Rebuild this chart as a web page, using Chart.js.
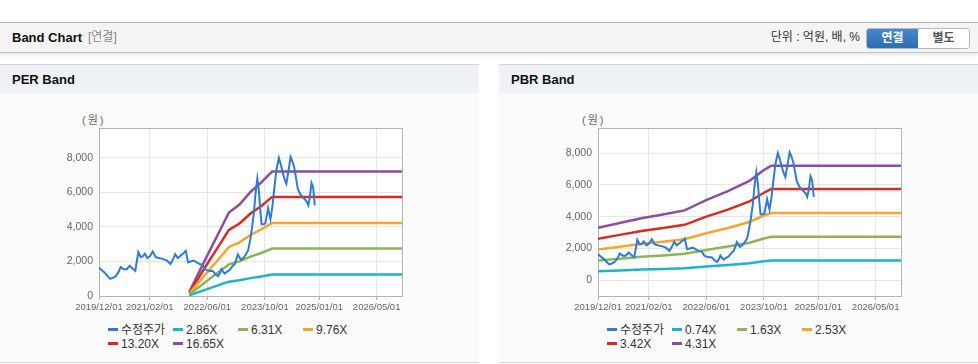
<!DOCTYPE html>
<html lang="ko">
<head>
<meta charset="utf-8">
<title>Band Chart</title>
<script src="https://cdn.jsdelivr.net/npm/chart.js@4.4.1/dist/chart.umd.min.js"></script>
<style>
  body { margin: 0; width: 978px; height: 364px; position: relative; overflow: hidden; background: #fff;
         font-family: "Liberation Sans", Arial, "Noto Sans CJK KR", sans-serif; color: #222; }
  .top { position: absolute; left: 0; top: 22px; width: 978px; height: 29px; line-height: 29px;
         background: #f4f4f4; border-top: 1px solid #b4b4b4; border-bottom: 1px solid #c4c4c4;
         box-shadow: 0 2px 3px rgba(0,0,0,0.10); }
  .top .title { position: absolute; left: 12px; font-size: 13px; font-weight: bold; color: #111; }
  .top .sub { position: absolute; left: 88px; font-size: 12px; color: #888; }
  .top .unit { position: absolute; right: 118px; font-size: 12px; color: #333; }
  .btns { position: absolute; left: 866px; top: 5px; width: 102px; height: 19px; line-height: 19px;
          border: 1px solid #b8b8b8; border-radius: 3px; overflow: hidden; font-size: 12px; font-weight: bold; }
  .btns span { float: left; width: 51px; text-align: center; }
  .btns .on { background: linear-gradient(#4688cc, #2e6db0); color: #fff; }
  .btns .off { background: #fff; color: #555; }
  .panel { position: absolute; top: 64px; width: 479px; height: 297px; background: #fbfbfb;
           border-top: 1px solid #d4d4d4; border-bottom: 1px solid #d8d8d8; }
  .panel .head { height: 28px; line-height: 29px; background: #eef2f7; padding-left: 12px;
                 font-size: 13px; font-weight: bold; color: #111; }
  .unitlabel { position: absolute; top: 46px; font-size: 11px; color: #666; letter-spacing: 2px; }
  .box { position: absolute; left: 40px; top: 45px; width: 400px; height: 210px; }
  .legend { position: absolute; left: 108px; top: 258px; display: grid;
            grid-template-columns: repeat(4, 65px); grid-auto-rows: 14px; font-size: 12px; color: #333; }
  .legend div { white-space: nowrap; line-height: 14px; }
  .legend i { display: inline-block; width: 10px; height: 3px; margin-right: 3px; vertical-align: 3px; }
</style>
</head>
<body>
<div class="top">
  <span class="title">Band Chart</span><span class="sub">[연결]</span>
  <span class="unit">단위 : 억원, 배, %</span>
  <div class="btns"><span class="on">연결</span><span class="off">별도</span></div>
</div>

<div class="panel" style="left:0">
  <div class="head">PER Band</div>
  <div class="unitlabel" style="left:82px">(원)</div>
  <div class="box"><canvas id="perChart"></canvas></div>
  <div class="legend" id="perLegend"></div>
</div>

<div class="panel" style="left:499px">
  <div class="head">PBR Band</div>
  <div class="unitlabel" style="left:83px">(원)</div>
  <div class="box"><canvas id="pbrChart"></canvas></div>
  <div class="legend" id="pbrLegend"></div>
</div>

<script>
"use strict";

// 수정주가 (adjusted price)
const priceDates = [
  "2019-12-01","2019-12-23","2020-01-18","2020-02-12","2020-03-05","2020-03-26","2020-04-20","2020-05-11","2020-06-01","2020-06-27",
  "2020-07-22","2020-08-16","2020-09-06","2020-10-02","2020-10-28","2020-11-18","2020-12-05","2020-12-22","2021-01-12","2021-02-02",
  "2021-02-27","2021-03-24","2021-04-18","2021-05-22","2021-06-26","2021-07-26","2021-08-19","2021-09-04","2021-09-26","2021-10-21",
  "2021-11-16","2021-12-02","2021-12-22","2022-01-13","2022-02-08","2022-03-05","2022-03-30","2022-04-25","2022-05-16","2022-05-29",
  "2022-06-23","2022-07-18","2022-08-12","2022-09-02","2022-09-15","2022-09-29","2022-10-14","2022-10-27","2022-11-13","2022-12-08",
  "2023-01-03","2023-01-20","2023-02-15","2023-03-12","2023-04-02","2023-04-23","2023-05-13","2023-05-31","2023-06-13","2023-06-30",
  "2023-07-12","2023-07-29","2023-08-11","2023-08-24","2023-09-03","2023-09-22","2023-10-05","2023-10-28","2023-11-17","2023-12-02",
  "2023-12-19","2024-01-06","2024-01-27","2024-02-13","2024-02-27","2024-03-13","2024-03-30","2024-04-16","2024-05-05","2024-05-20",
  "2024-06-06","2024-06-18","2024-07-05","2024-07-26","2024-08-16","2024-09-02","2024-09-19","2024-10-01","2024-10-14","2024-10-28",
  "2024-11-11","2024-11-25"
];
const priceValues = [
  1650,1500,1350,1150,1000,1050,1150,1350,1680,1550,
  1550,1750,1600,1450,2550,2250,2300,2450,2200,2300,
  2580,2250,2200,2150,2050,1850,2150,2420,2200,2350,
  2500,2620,1950,2000,2050,1950,1850,1800,1550,1500,
  1450,1450,1250,1150,1300,1550,1400,1300,1400,1500,
  1750,1850,2400,2100,2200,2400,2650,3300,3900,4800,
  5800,6800,6100,4900,4150,4150,4200,5100,4450,5100,
  6200,7300,8000,7600,7200,6800,6500,7200,8050,7800,
  7400,6900,6200,5900,5700,5600,5450,5250,5700,6550,
  6300,5250
];

// PER band
const perBandDates = ["2022-01-01","2022-04-01","2022-07-01","2022-10-01","2022-12-01","2023-03-01","2023-06-01","2023-09-01","2023-12-01","2026-12-01"];
const perLabels = ["2.86X","6.31X","9.76X","13.20X","16.65X"];
const per286  = [40, 257, 472, 686, 829, 909, 1035, 1130, 1250, 1250];
const per631  = [88, 568, 1041, 1514, 1830, 2007, 2284, 2492, 2750, 2750];
const per976  = [137, 878, 1610, 2342, 2830, 3104, 3533, 3855, 4230, 4230];
const per1320 = [185, 1188, 2178, 3168, 3828, 4198, 4778, 5214, 5740, 5740];
const per1665 = [233, 1499, 2747, 3996, 4829, 5295, 6027, 6577, 7210, 7210];

// PBR band
const pbrBandDates = ["2019-12-01","2020-06-01","2020-12-01","2021-06-01","2021-12-01","2022-06-01","2022-12-01","2023-06-01","2023-10-01","2023-12-01","2026-12-01"];
const pbrLabels = ["0.74X","1.63X","2.53X","3.42X","4.31X"];
const pbr074 = [566, 618, 670, 710, 755, 866, 962, 1073, 1191, 1250, 1250];
const pbr163 = [1247, 1361, 1475, 1565, 1663, 1907, 2119, 2364, 2624, 2740, 2740];
const pbr253 = [1935, 2113, 2290, 2429, 2581, 2960, 3289, 3669, 4073, 4230, 4230];
const pbr342 = [2616, 2856, 3095, 3283, 3488, 4001, 4446, 4959, 5506, 5740, 5740];
const pbr431 = [3297, 3599, 3901, 4138, 4396, 5043, 5603, 6250, 6939, 7200, 7200];

// axes
const xTickDates = ["2019-12-01","2021-02-01","2022-06-01","2023-10-01","2025-01-01","2026-05-01"];
const xStart = "2019-12-01";
const xEnd = "2026-12-01";
const yTicks = [0, 2000, 4000, 6000, 8000];

const priceColor = "#2f7bd3";
const bandColors = ["#1db4c6", "#8db553", "#f5a530", "#d52d24", "#8c4f9d"];

const toMs = (s) => Date.parse(s + "T00:00:00Z");
const pad2 = (n) => String(n).padStart(2, "0");
const fmtDate = (ms) => {
  const d = new Date(ms);
  return d.getUTCFullYear() + "/" + pad2(d.getUTCMonth() + 1) + "/" + pad2(d.getUTCDate());
};
const toPoints = (dates, values) => dates.map((d, i) => ({ x: toMs(d), y: values[i] }));

// white plot background + grey frame
const plotFrame = {
  id: "plotFrame",
  beforeDraw(chart) {
    const { ctx, chartArea: a } = chart;
    ctx.save();
    ctx.fillStyle = "#fff";
    ctx.fillRect(a.left, a.top, a.width, a.height);
    ctx.restore();
  },
  beforeDatasetsDraw(chart) {
    const { ctx, chartArea: a } = chart;
    ctx.save();
    ctx.strokeStyle = "#b4b4b4";
    ctx.lineWidth = 1;
    ctx.strokeRect(Math.round(a.left) + 0.5, Math.round(a.top) + 0.5, Math.round(a.width), Math.round(a.height));
    ctx.restore();
  },
};

Chart.defaults.font.family = '"Liberation Sans", Arial, "Noto Sans CJK KR", sans-serif';

const makeChart = (canvasId, legendId, bandDates, bands, labels, yMin, yMax) => {
  const datasets = [
    {
      label: "수정주가",
      data: toPoints(priceDates, priceValues),
      borderColor: priceColor,
      borderWidth: 2,
    },
  ];
  bands.forEach((vals, i) => {
    datasets.push({
      label: labels[i],
      data: toPoints(bandDates, vals),
      borderColor: bandColors[i],
      borderWidth: 2.5,
    });
  });

  new Chart(document.getElementById(canvasId), {
    type: "line",
    data: { datasets },
    options: {
      responsive: false,
      animation: false,
      maintainAspectRatio: false,
      layout: { padding: { top: 18, right: 38, left: 0, bottom: 0 } },
      elements: { point: { radius: 0 }, line: { tension: 0 } },
      plugins: { legend: { display: false }, tooltip: { enabled: false } },
      scales: {
        x: {
          type: "linear",
          min: toMs(xStart),
          max: toMs(xEnd),
          afterBuildTicks: (scale) => {
            scale.ticks = xTickDates.map((d) => ({ value: toMs(d) }));
          },
          afterFit: (scale) => { scale.height = 24; },
          grid: { color: "#e6e6e6", tickColor: "#b4b4b4", tickLength: 4 },
          border: { color: "#b4b4b4" },
          ticks: {
            color: "#666",
            font: { size: 9.5 },
            padding: 2,
            maxRotation: 0,
            autoSkip: false,
            callback: (v) => fmtDate(v),
          },
        },
        y: {
          min: yMin,
          max: yMax,
          afterBuildTicks: (scale) => {
            scale.ticks = yTicks.map((v) => ({ value: v }));
          },
          afterFit: (scale) => { scale.width = 59; },
          grid: { color: "#e6e6e6", drawTicks: false },
          border: { color: "#b4b4b4" },
          ticks: {
            color: "#666",
            font: { size: 10.5 },
            padding: 6,
            callback: (v) => v.toLocaleString("en-US"),
          },
        },
      },
    },
    plugins: [plotFrame],
  });

  const legend = document.getElementById(legendId);
  datasets.forEach((ds) => {
    const item = document.createElement("div");
    item.innerHTML = '<i style="background:' + ds.borderColor + '"></i>' + ds.label;
    legend.appendChild(item);
  });
};

const perCanvas = document.getElementById("perChart");
const pbrCanvas = document.getElementById("pbrChart");
[perCanvas, pbrCanvas].forEach((c) => { c.width = 400; c.height = 210; c.style.width = "400px"; c.style.height = "210px"; });

makeChart("perChart", "perLegend", perBandDates, [per286, per631, per976, per1320, per1665], perLabels, 0, 9730);
makeChart("pbrChart", "pbrLegend", pbrBandDates, [pbr074, pbr163, pbr253, pbr342, pbr431], pbrLabels, -990, 9580);
</script>
</body>
</html>
